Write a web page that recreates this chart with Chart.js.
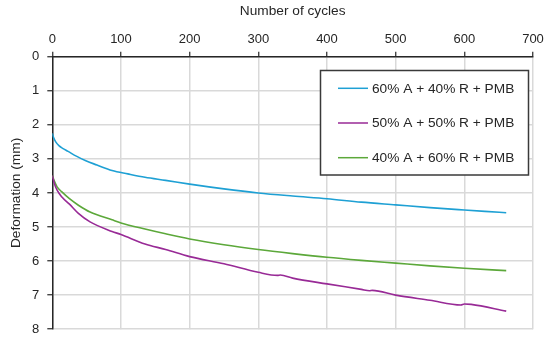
<!DOCTYPE html>
<html>
<head>
<meta charset="utf-8">
<script src="https://cdn.jsdelivr.net/npm/chart.js@4"></script>
<style>
  html, body { margin: 0; padding: 0; background: #fff; }
  #wrap { width: 550px; height: 345px; }
</style>
</head>
<body>
<div id="wrap"><canvas id="deform_chart" width="550" height="345"></canvas></div>
<script>
// series labels
var seriesNames = ['60% A + 40% R + PMB', '50% A + 50% R + PMB', '40% A + 60% R + PMB'];

// number of cycles / deformation (mm)
var blueX = [0, 2, 5, 10, 15, 23, 35, 48, 65, 87, 110, 135, 165, 200, 250, 300, 350, 400, 450, 500, 550, 600, 630, 661];
var blueY = [2.25, 2.38, 2.50, 2.62, 2.69, 2.78, 2.92, 3.05, 3.18, 3.34, 3.44, 3.54, 3.63, 3.74, 3.88, 4.00, 4.09, 4.17, 4.27, 4.35, 4.43, 4.50, 4.54, 4.58];

var purpleX = [0, 3, 7, 14, 25, 38, 55, 87, 100, 135, 165, 200, 250, 300, 328, 332, 350, 400, 450, 462, 466, 500, 550, 595, 600, 610, 661];
var purpleY = [3.49, 3.72, 3.92, 4.12, 4.33, 4.60, 4.85, 5.13, 5.22, 5.50, 5.66, 5.87, 6.08, 6.33, 6.42, 6.41, 6.50, 6.67, 6.83, 6.87, 6.86, 7.00, 7.15, 7.29, 7.26, 7.27, 7.47];

var greenX = [0, 3, 7, 14, 25, 38, 55, 87, 100, 135, 165, 200, 250, 300, 350, 400, 450, 500, 550, 600, 661];
var greenY = [3.49, 3.65, 3.82, 3.97, 4.17, 4.36, 4.56, 4.79, 4.88, 5.06, 5.20, 5.35, 5.52, 5.66, 5.78, 5.89, 5.98, 6.06, 6.14, 6.21, 6.28];

var colors = ['#1ea0d4', '#982a96', '#5ca83a'];

function pts(xs, ys) {
    var out = [];
    for (var i = 0; i < xs.length; i++) out.push({x: xs[i], y: ys[i]});
    return out;
}

// legend box drawn inside the plot
const boxLegend = {
    id: 'boxLegend',
    afterDatasetsDraw(chart) {
        const ctx = chart.ctx;
        ctx.save();
        ctx.fillStyle = '#ffffff';
        ctx.fillRect(320.5, 70.5, 208, 104.5);
        ctx.strokeStyle = '#3a3a3a';
        ctx.lineWidth = 1.5;
        ctx.strokeRect(320.5, 70.5, 208, 104.5);
        ctx.font = '13.7px "Liberation Sans", Arial, sans-serif';
        ctx.textBaseline = 'middle';
        ctx.fillStyle = '#262626';
        var rows = [88.3, 123, 157.7];
        chart.data.datasets.forEach(function(ds, i) {
            ctx.strokeStyle = ds.borderColor;
            ctx.lineWidth = 1.5;
            ctx.beginPath();
            ctx.moveTo(338, rows[i]);
            ctx.lineTo(368, rows[i]);
            ctx.stroke();
            ctx.fillText(ds.label, 372, rows[i] + 0.5);
        });
        ctx.restore();
    }
};

const ctx_deform = document.getElementById('deform_chart').getContext('2d');
const myChart_deform = new Chart(ctx_deform, {
    type: 'line',
    data: {
        datasets: [
            { label: seriesNames[0], data: pts(blueX, blueY), borderColor: colors[0] },
            { label: seriesNames[1], data: pts(purpleX, purpleY), borderColor: colors[1] },
            { label: seriesNames[2], data: pts(greenX, greenY), borderColor: colors[2] }
        ]
    },
    options: {
        responsive: false,
        animation: false,
        layout: { padding: { left: 0, top: 0, right: 17, bottom: 10 } },
        elements: {
            point: { radius: 0 },
            line: { borderWidth: 1.6, cubicInterpolationMode: 'monotone', fill: false }
        },
        plugins: {
            legend: { display: false },
            tooltip: { enabled: false }
        },
        scales: {
            x: {
                type: 'linear',
                position: 'top',
                min: 0,
                max: 700,
                afterFit: function(s) { s.height = 56.7; },
                ticks: { stepSize: 100, color: '#262626', padding: 4,
                         font: { family: '"Liberation Sans", Arial, sans-serif', size: 13 } },
                grid: { color: '#d9d9d9', lineWidth: 1.5, tickColor: '#262626', tickLength: 5, tickWidth: 1.2 },
                border: { color: '#262626', width: 1.5 },
                title: { display: true, text: 'Number of cycles', color: '#262626',
                         padding: { top: 3, bottom: 0 },
                         font: { family: '"Liberation Sans", Arial, sans-serif', size: 13.7 } }
            },
            y: {
                type: 'linear',
                reverse: true,
                min: 0,
                max: 8,
                afterFit: function(s) { s.width = 52.3; },
                ticks: { stepSize: 1, color: '#262626', padding: 8,
                         font: { family: '"Liberation Sans", Arial, sans-serif', size: 13 } },
                grid: { color: '#d9d9d9', lineWidth: 1.5, tickColor: '#262626', tickLength: 5, tickWidth: 1.2 },
                border: { color: '#262626', width: 1.5 },
                title: { display: true, text: 'Deformation (mm)', color: '#262626',
                         padding: { top: 8, bottom: 0 },
                         font: { family: '"Liberation Sans", Arial, sans-serif', size: 13.7 } }
            }
        }
    },
    plugins: [boxLegend]
});
</script>
</body>
</html>
